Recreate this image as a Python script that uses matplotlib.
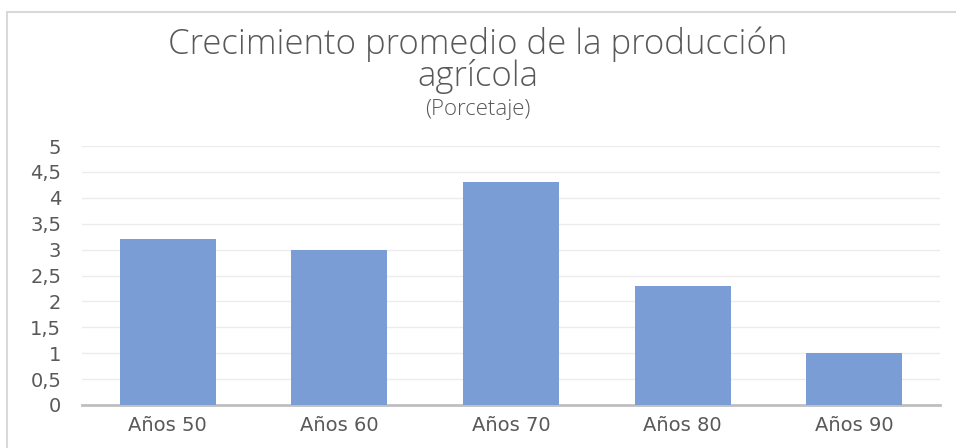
import matplotlib
matplotlib.use('Agg')
import matplotlib.pyplot as plt
from matplotlib.patches import Rectangle

# datos
categorias = ['Años 50', 'Años 60', 'Años 70', 'Años 80', 'Años 90']
crecimiento = [3.2, 3.0, 4.3, 2.3, 1.0]
ticks_y = [0, 0.5, 1, 1.5, 2, 2.5, 3, 3.5, 4, 4.5, 5]
etiquetas_y = ['0', '0,5', '1', '1,5', '2', '2,5', '3', '3,5', '4', '4,5', '5']

plt.rcParams['font.family'] = ['DejaVu Sans']
fuente_titulo = ['Open Sans', 'DejaVu Sans']

fig = plt.figure(figsize=(9.56, 4.48), dpi=100)
fig.patch.set_facecolor('white')

# marco del grafico
fig.patches.append(Rectangle((7 / 956, -0.1), 1.1, 1 - 12 / 448 + 0.1,
                             transform=fig.transFigure, fill=False,
                             edgecolor='#d9d9d9', linewidth=1.5))

ax = fig.add_axes([82 / 956, 1 - 405 / 448, (940 - 82) / 956, (405 - 146) / 448])
x = range(len(categorias))
ax.bar(x, crecimiento, width=0.56, color='#7b9dd6', zorder=3)

ax.set_xlim(-0.5, len(categorias) - 0.5)
ax.set_ylim(0, 5)
ax.set_yticks(ticks_y)
ax.set_yticklabels(etiquetas_y)
ax.set_xticks(list(x))
ax.set_xticklabels(categorias)
ax.tick_params(axis='both', length=0, labelsize=14, colors='#595959')
ax.tick_params(axis='y', pad=15)
ax.tick_params(axis='x', pad=8)
ax.grid(axis='y', color='#ececec', linewidth=1, zorder=0)
for s in ['top', 'right', 'left']:
    ax.spines[s].set_visible(False)
ax.spines['bottom'].set_color('#bfbfbf')
ax.spines['bottom'].set_linewidth(2)

fig.text(0.5, 1 - 44 / 448, 'Crecimiento promedio de la producción',
         ha='center', va='center', fontsize=25, color='#595959',
         family=fuente_titulo, fontweight='light')
fig.text(0.5, 1 - 77 / 448, 'agrícola',
         ha='center', va='center', fontsize=25, color='#595959',
         family=fuente_titulo, fontweight='light')
fig.text(0.5, 1 - 109 / 448, '(Porcetaje)',
         ha='center', va='center', fontsize=16, color='#595959',
         family=fuente_titulo, fontweight='light')

fig.savefig('out.png', dpi=100)
